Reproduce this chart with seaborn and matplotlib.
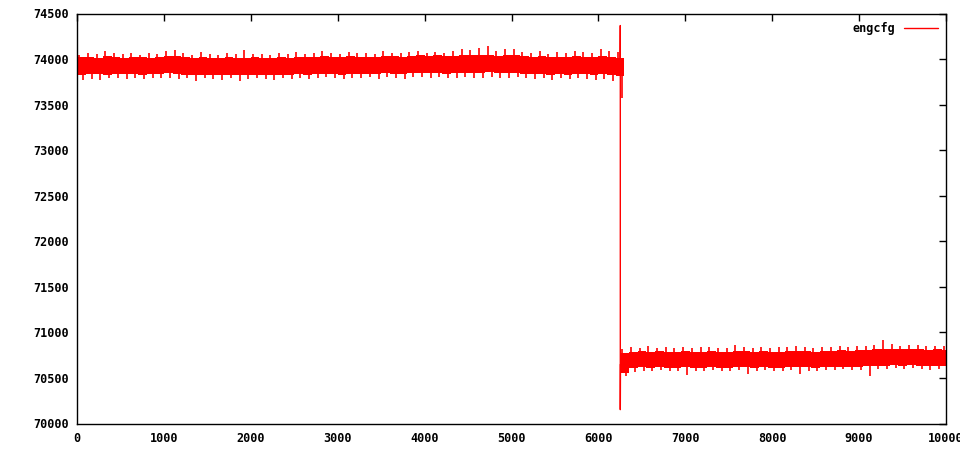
import numpy as np
import matplotlib
matplotlib.use("Agg")
import matplotlib.pyplot as plt
import seaborn as sns

# ---- data (100-unit bins) ----
# upper level, bins starting 0 .. 6200 (segment ends at 6250)
upper_core_hi = [74020, 74025, 74015, 74030, 74020, 74015, 74025, 74020, 74015, 74025,
                 74035, 74030, 74025, 74015, 74020, 74010, 74015, 74020, 74010, 74015,
                 74020, 74015, 74010, 74020, 74015, 74025, 74020, 74025, 74030, 74025,
                 74020, 74030, 74025, 74025, 74020, 74035, 74030, 74025, 74035, 74040,
                 74035, 74040, 74030, 74035, 74045, 74040, 74045, 74050, 74035, 74040,
                 74045, 74035, 74025, 74030, 74020, 74025, 74020, 74030, 74025, 74020,
                 74030, 74025, 74015]
upper_core_lo = [73830, 73840, 73835, 73830, 73840, 73835, 73840, 73830, 73835, 73840,
                 73845, 73840, 73830, 73825, 73830, 73825, 73820, 73830, 73825, 73820,
                 73830, 73825, 73820, 73830, 73825, 73835, 73830, 73835, 73840, 73835,
                 73830, 73840, 73835, 73840, 73835, 73845, 73840, 73835, 73845, 73850,
                 73845, 73850, 73840, 73845, 73850, 73845, 73850, 73855, 73845, 73850,
                 73850, 73840, 73835, 73840, 73830, 73835, 73830, 73840, 73835, 73830,
                 73835, 73825, 73810]
upper_peak = [74050, 74065, 74060, 74090, 74070, 74055, 74065, 74050, 74070, 74060,
              74090, 74095, 74070, 74050, 74080, 74055, 74050, 74070, 74060, 74100,
              74060, 74055, 74050, 74070, 74060, 74080, 74055, 74065, 74085, 74070,
              74055, 74080, 74065, 74070, 74060, 74085, 74070, 74065, 74080, 74090,
              74070, 74080, 74065, 74090, 74110, 74100, 74120, 74140, 74090, 74105,
              74115, 74080, 74070, 74085, 74060, 74080, 74070, 74085, 74075, 74070,
              74115, 74085, 74080]
upper_dip = [73766, 73780, 73766, 73790, 73795, 73780, 73790, 73785, 73795, 73790,
             73795, 73780, 73790, 73760, 73790, 73780, 73775, 73790, 73760, 73780,
             73790, 73780, 73775, 73790, 73780, 73795, 73785, 73790, 73800, 73790,
             73780, 73795, 73790, 73800, 73785, 73800, 73790, 73785, 73800, 73805,
             73795, 73800, 73790, 73795, 73800, 73790, 73795, 73800, 73790, 73795,
             73800, 73790, 73785, 73790, 73766, 73790, 73785, 73795, 73780, 73770,
             73780, 73760, 73573]

# lower level, bins starting 6250 .. 9950 (segment ends at 10000)
lower_core_hi = [70775, 70790, 70795, 70790, 70795, 70785, 70790, 70795, 70785, 70790,
                 70795, 70785, 70790, 70800, 70795, 70790, 70795, 70785, 70790, 70795,
                 70800, 70795, 70790, 70795, 70800, 70805, 70800, 70805, 70810, 70815,
                 70815, 70820, 70815, 70820, 70815, 70810, 70815, 70810]
lower_core_lo = [70555, 70605, 70615, 70610, 70615, 70605, 70610, 70615, 70605, 70610,
                 70615, 70605, 70610, 70620, 70615, 70610, 70615, 70605, 70610, 70615,
                 70620, 70615, 70610, 70615, 70620, 70625, 70620, 70625, 70630, 70635,
                 70635, 70640, 70635, 70640, 70635, 70630, 70635, 70630]
lower_peak = [70815, 70835, 70825, 70855, 70830, 70835, 70825, 70840, 70830, 70835,
              70845, 70830, 70825, 70860, 70835, 70830, 70845, 70830, 70835, 70840,
              70850, 70840, 70830, 70845, 70835, 70850, 70845, 70855, 70850, 70860,
              70913, 70870, 70855, 70865, 70860, 70850, 70855, 70850]
lower_dip = [70520, 70570, 70580, 70575, 70585, 70575, 70580, 70530, 70575, 70580,
             70585, 70575, 70580, 70585, 70540, 70580, 70585, 70575, 70580, 70585,
             70540, 70580, 70575, 70585, 70590, 70595, 70590, 70590, 70520, 70600,
             70595, 70605, 70600, 70605, 70600, 70590, 70600, 70595]

# the single jump between the two levels
jump_x = [6250, 6252, 6252, 6254]
jump_y = [73900, 74368, 70152, 70650]

x_ticks = [0, 1000, 2000, 3000, 4000, 5000, 6000, 7000, 8000, 9000, 10000]
y_ticks = [70000, 70500, 71000, 71500, 72000, 72500, 73000, 73500, 74000, 74500]

red = "#ff0000"

sns.set_style("white")
plt.rcParams["font.family"] = ["DejaVu Sans Mono"]
plt.rcParams["font.weight"] = "bold"
plt.rcParams["text.color"] = "black"

fig = plt.figure(figsize=(9.6, 4.5), dpi=100)
ax = fig.add_axes([77 / 960, 1 - 423.5 / 450, 869 / 960, 410 / 450])


def draw_level(start, core_hi, core_lo, peak, dip):
    n = len(core_hi)
    edges = start + 100 * np.arange(n + 1)
    if edges[-1] > 10000:
        edges[-1] = 10000
    hi = list(core_hi) + [core_hi[-1]]
    lo = list(core_lo) + [core_lo[-1]]
    ax.fill_between(edges, lo, hi, step="post", color=red, linewidth=0)
    mid = (np.array(core_hi) + np.array(core_lo)) / 2
    xs = edges[:-1]
    ax.vlines(xs + 25, mid, peak, color=red, linewidth=1.2)
    ax.vlines(xs + 70, dip, mid, color=red, linewidth=1.2)


draw_level(0, upper_core_hi, upper_core_lo, upper_peak, upper_dip)
draw_level(6250, lower_core_hi, lower_core_lo, lower_peak, lower_dip)

sns.lineplot(x=jump_x, y=jump_y, color=red, linewidth=1.0, sort=False,
             estimator=None, label="engcfg", ax=ax)

ax.set_xlim(0, 10000)
ax.set_ylim(70000, 74500)
ax.set_xticks(x_ticks)
ax.set_yticks(y_ticks)
ax.tick_params(direction="in", length=5, width=1, top=True, right=True,
               labelsize=8.5, pad=6, colors="black")
for lab in ax.get_xticklabels() + ax.get_yticklabels():
    lab.set_fontweight("bold")
for sp in ax.spines.values():
    sp.set_visible(True)
    sp.set_color("black")
    sp.set_linewidth(1)
ax.set_xlabel("")
ax.set_ylabel("")

leg = ax.legend(loc="upper right", frameon=False, markerfirst=False,
                handlelength=2.9, handletextpad=0.7, fontsize=8.5,
                borderaxespad=0.3)
for t in leg.get_texts():
    t.set_fontweight("bold")
    t.set_color("black")

fig.savefig("out.png", dpi=100)
